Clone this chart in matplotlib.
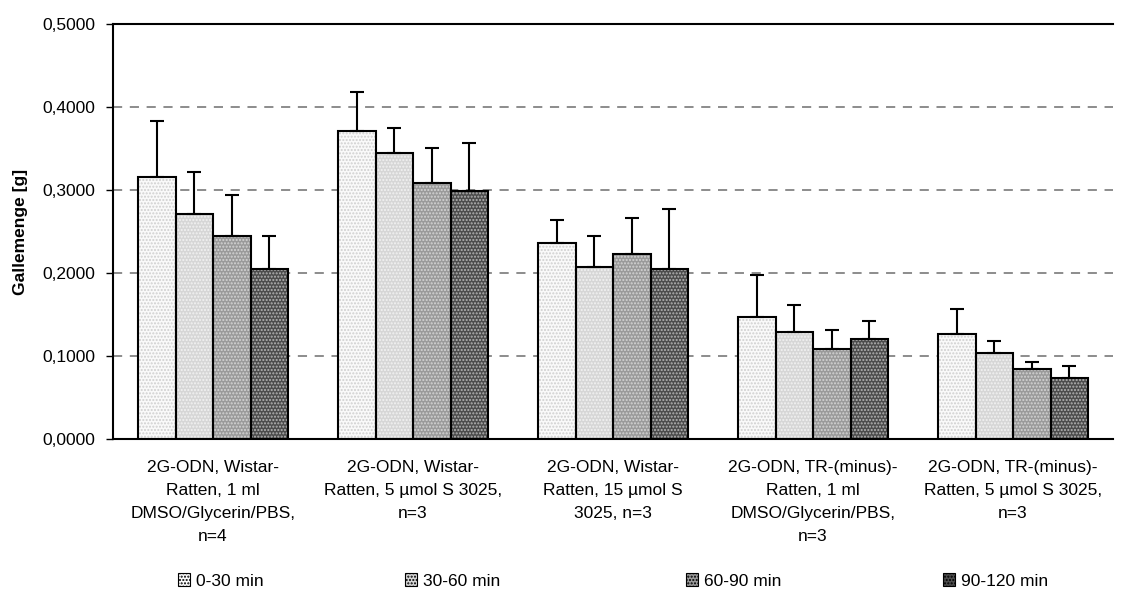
import matplotlib
matplotlib.use("Agg")
import matplotlib.pyplot as plt
from matplotlib.patches import Patch
from matplotlib.ticker import FuncFormatter
import numpy as np

plt.rcParams['font.family'] = ['Liberation Sans', 'DejaVu Sans']
plt.rcParams['hatch.linewidth'] = 1.0

# Groups (x-axis categories)
categories = [
    "2G-ODN, Wistar-\nRatten, 1 ml\nDMSO/Glycerin/PBS,\nn=4",
    "2G-ODN, Wistar-\nRatten, 5 µmol S 3025,\nn=3",
    "2G-ODN, Wistar-\nRatten, 15 µmol S\n3025, n=3",
    "2G-ODN, TR-(minus)-\nRatten, 1 ml\nDMSO/Glycerin/PBS,\nn=3",
    "2G-ODN, TR-(minus)-\nRatten, 5 µmol S 3025,\nn=3",
]

# Collection intervals (series)
series_names = ["0-30 min", "30-60 min", "60-90 min", "90-120 min"]

# Mean bile amount [g] per interval
mean_0_30 = [0.3160, 0.3705, 0.2360, 0.1465, 0.1270]
mean_30_60 = [0.2715, 0.3440, 0.2075, 0.1295, 0.1035]
mean_60_90 = [0.2440, 0.3090, 0.2230, 0.1080, 0.0840]
mean_90_120 = [0.2045, 0.2985, 0.2050, 0.1210, 0.0740]

# Standard deviations (upper error bars)
sd_0_30 = [0.0670, 0.0475, 0.0280, 0.0505, 0.0300]
sd_30_60 = [0.0500, 0.0310, 0.0370, 0.0320, 0.0150]
sd_60_90 = [0.0500, 0.0420, 0.0430, 0.0235, 0.0085]
sd_90_120 = [0.0400, 0.0585, 0.0720, 0.0215, 0.0140]

y_ticks = [0.0, 0.1, 0.2, 0.3, 0.4, 0.5]

means = [mean_0_30, mean_30_60, mean_60_90, mean_90_120]
sds = [sd_0_30, sd_30_60, sd_60_90, sd_90_120]

# Fill colour, hatch pattern and hatch colour for each series
styles = [
    dict(face="#fafafa", hatch=".....", hcol="#cfcfcf"),
    dict(face="#d6d6d6", hatch=".....", hcol="#f2f2f2"),
    dict(face="#9a9a9a", hatch=".....", hcol="#d4d4d4"),
    dict(face="#4c4c4c", hatch=".....", hcol="#b4b4b4"),
]

fig = plt.figure(figsize=(11.33, 5.92), dpi=100)
ax = fig.add_axes([113 / 1133, 1 - 439 / 592, 1000 / 1133, 415 / 592])

x = np.arange(len(categories))
bw = 0.1875
offsets = (np.arange(4) - 1.5) * bw

for vals, err, st, off in zip(means, sds, styles, offsets):
    pos = x + off
    ax.bar(pos, vals, width=bw, color=st["face"], edgecolor=st["hcol"],
           hatch=st["hatch"], linewidth=0, zorder=2)
    ax.bar(pos, vals, width=bw, fill=False, edgecolor="black",
           linewidth=1.5, zorder=3)
    ax.errorbar(pos, vals, yerr=[np.zeros(len(vals)), err], fmt="none",
                ecolor="black", elinewidth=1.5, capsize=5, capthick=1.5,
                zorder=4)

ax.set_xlim(-0.5, len(categories) - 0.5)
ax.set_ylim(0, 0.5)
ax.set_yticks(y_ticks)
ax.yaxis.set_major_formatter(FuncFormatter(lambda v, p: f"{v:.4f}".replace(".", ",")))
ax.tick_params(axis="y", direction="out", length=5, width=1, pad=8, labelsize=12.5)
ax.set_xticks(x)
ax.set_xticklabels(categories, fontsize=12.5, linespacing=1.68)
ax.tick_params(axis="x", length=0, pad=15)

for yv in y_ticks[1:-1]:
    ax.axhline(yv, color="#6e6e6e", linestyle=(0, (6, 5)), linewidth=1.1, zorder=1)

for side in ["left", "bottom", "top"]:
    ax.spines[side].set_linewidth(1.5)
ax.spines["right"].set_visible(False)

ax.set_ylabel("Gallemenge [g]", fontsize=12.5, fontweight="bold")
ax.yaxis.set_label_coords(-0.085, 0.5)

# Legend entries spread along the bottom edge
legend_x = [178, 405, 686, 943]
for name, st, lx in zip(series_names, styles, legend_x):
    h = Patch(facecolor=st["face"], edgecolor="black", hatch=st["hatch"], linewidth=0.8)
    fig.legend(handles=[h], labels=[name], loc="center left",
               bbox_to_anchor=(lx / 1133, 1 - 581 / 592), frameon=False,
               fontsize=12.5, handlelength=0.7, handleheight=0.7,
               handletextpad=0.35, borderpad=0, borderaxespad=0)

fig.savefig("out.png", dpi=100)
